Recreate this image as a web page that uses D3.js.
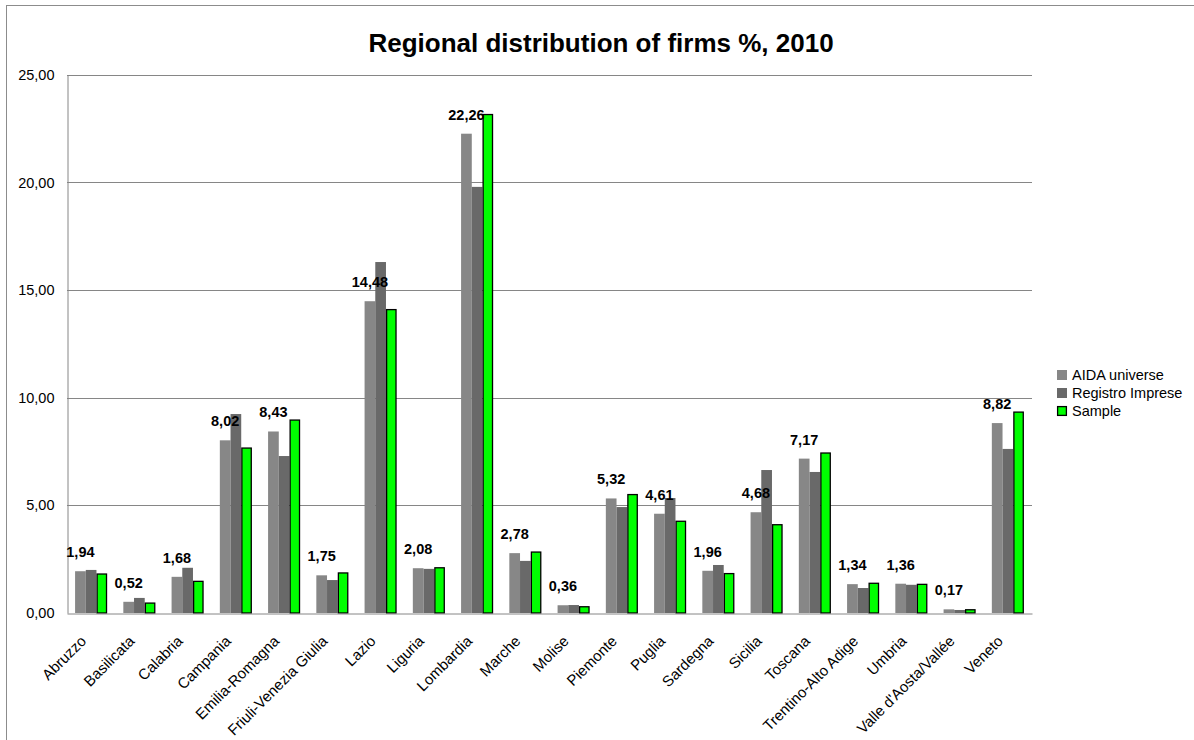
<!DOCTYPE html>
<html>
<head>
<meta charset="utf-8">
<script src="https://cdn.jsdelivr.net/npm/d3@7"></script>
<style>
  body { margin: 0; background: #fff; }
  text { font-family: "Liberation Sans", Arial, sans-serif; fill: #000; }
</style>
</head>
<body>
<div id="chart-area"></div>
<script>
// Regional distribution of firms %, 2010

const regions = ['Abruzzo', 'Basilicata', 'Calabria', 'Campania', 'Emilia-Romagna',
  'Friuli-Venezia Giulia', 'Lazio', 'Liguria', 'Lombardia', 'Marche', 'Molise',
  'Piemonte', 'Puglia', 'Sardegna', 'Sicilia', 'Toscana', 'Trentino-Alto Adige',
  'Umbria', "Valle d'Aosta/Vallée", 'Veneto'];

const seriesNames = ['AIDA universe', 'Registro Imprese', 'Sample'];

const aida = [1.94, 0.52, 1.68, 8.02, 8.43, 1.75, 14.48, 2.08, 22.26, 2.78, 0.36,
  5.32, 4.61, 1.96, 4.68, 7.17, 1.34, 1.36, 0.17, 8.82];
const registro = [2.00, 0.70, 2.10, 9.24, 7.29, 1.53, 16.30, 2.05, 19.79, 2.42, 0.37,
  4.92, 5.34, 2.23, 6.64, 6.55, 1.16, 1.31, 0.14, 7.62];
const sample = [1.81, 0.46, 1.47, 7.66, 8.96, 1.86, 14.09, 2.10, 23.15, 2.83, 0.29,
  5.50, 4.26, 1.83, 4.10, 7.43, 1.38, 1.33, 0.15, 9.33];

const yTicks = [0, 5, 10, 15, 20, 25];

const colors = ['#878787', '#696969', '#00ff00'];

const W = 1194, H = 740;
const plot = { left: 67, right: 1032, top: 74.7, bottom: 613 };

const fmt = (v) => d3.format('.2f')(v).replace('.', ',');

const svg = d3.select('#chart-area')
  .append('svg')
  .attr('width', W)
  .attr('height', H);

// chart area frame
svg.append('rect')
  .attr('x', 6.5)
  .attr('y', 5.5)
  .attr('width', W + 10)
  .attr('height', H + 10)
  .attr('fill', '#fff')
  .attr('stroke', '#8c8c8c')
  .attr('stroke-width', 1);

// title
svg.append('text')
  .attr('x', 601)
  .attr('y', 52)
  .attr('text-anchor', 'middle')
  .attr('font-size', '26px')
  .attr('font-weight', 'bold')
  .text('Regional distribution of firms %, 2010');

const x = d3.scaleBand()
  .domain(regions)
  .range([plot.left, plot.right])
  .paddingInner(0.335)
  .paddingOuter(0.1675);

const xs = d3.scaleBand()
  .domain(seriesNames)
  .range([0, x.bandwidth()]);

const y = d3.scaleLinear()
  .domain([0, 25])
  .range([plot.bottom, plot.top]);

// gridlines
svg.append('g')
  .selectAll('line')
  .data(yTicks.filter((t) => t > 0))
  .enter()
  .append('line')
  .attr('x1', plot.left)
  .attr('x2', plot.right)
  .attr('y1', (d) => Math.round(y(d)) + 0.5)
  .attr('y2', (d) => Math.round(y(d)) + 0.5)
  .attr('stroke', '#868686')
  .attr('stroke-width', 1);

// y axis
const yAxisCall = d3.axisLeft(y)
  .tickValues(yTicks)
  .tickSize(0)
  .tickPadding(13)
  .tickFormat(fmt);

const yAxis = svg.append('g')
  .attr('transform', 'translate(' + (plot.left + 0.5) + ', 0)')
  .call(yAxisCall);
yAxis.select('.domain').attr('stroke', '#868686');
yAxis.selectAll('text')
  .attr('font-size', '14.5px')
  .attr('font-family', '"Liberation Sans", Arial, sans-serif')
  .attr('fill', '#000');

// bars
const rows = regions.map((r, i) => ({
  region: r,
  values: [aida[i], registro[i], sample[i]]
}));

const groups = svg.append('g')
  .selectAll('g')
  .data(rows)
  .enter()
  .append('g')
  .attr('transform', (d) => 'translate(' + x(d.region) + ', 0)');

groups.selectAll('rect')
  .data((d) => d.values.map((v, k) => ({ key: seriesNames[k], k: k, value: v })))
  .enter()
  .append('rect')
  .attr('x', (d) => xs(d.key) + (d.k === 2 ? 0.65 : 0))
  .attr('y', (d) => y(d.value))
  .attr('width', (d) => xs.bandwidth() - (d.k === 2 ? 1.3 : 0))
  .attr('height', (d) => y(0) - y(d.value))
  .attr('fill', (d) => colors[d.k])
  .attr('stroke', (d) => d.k === 2 ? '#000' : 'none')
  .attr('stroke-width', 1.3);

// x axis
const xAxisCall = d3.axisBottom(x).tickSize(0).tickFormat('');
const xAxis = svg.append('g')
  .attr('transform', 'translate(0, ' + (plot.bottom + 0.5) + ')')
  .call(xAxisCall);
xAxis.select('.domain').attr('stroke', '#868686');

// category labels
svg.append('g')
  .selectAll('text')
  .data(regions)
  .enter()
  .append('text')
  .attr('transform', (d) => 'translate(' + (x(d) + x.bandwidth() / 2 - 4) + ', ' + (plot.bottom + 29) + ') rotate(-45)')
  .attr('text-anchor', 'end')
  .attr('font-size', '15px')
  .text((d) => d);

// data labels for AIDA universe
svg.append('g')
  .selectAll('text')
  .data(rows)
  .enter()
  .append('text')
  .attr('x', (d) => x(d.region) + xs(seriesNames[0]) + xs.bandwidth() / 2)
  .attr('y', (d) => y(d.values[0]) - 14)
  .attr('text-anchor', 'middle')
  .attr('font-size', '14.5px')
  .attr('font-weight', 'bold')
  .text((d) => fmt(d.values[0]));

// legend
const legend = svg.append('g')
  .attr('transform', 'translate(1057, 370)');

const items = legend.selectAll('g')
  .data(seriesNames)
  .enter()
  .append('g')
  .attr('transform', (d, i) => 'translate(0, ' + (i * 18) + ')');

items.append('rect')
  .attr('x', (d, i) => i === 2 ? 0.6 : 0)
  .attr('y', (d, i) => i === 2 ? 0.6 : 0)
  .attr('width', (d, i) => i === 2 ? 8.8 : 10)
  .attr('height', (d, i) => i === 2 ? 8.8 : 10)
  .attr('fill', (d, i) => colors[i])
  .attr('stroke', (d, i) => i === 2 ? '#000' : 'none')
  .attr('stroke-width', 1.3);

items.append('text')
  .attr('x', 15)
  .attr('y', 10)
  .attr('font-size', '14.5px')
  .text((d) => d);
</script>
</body>
</html>
